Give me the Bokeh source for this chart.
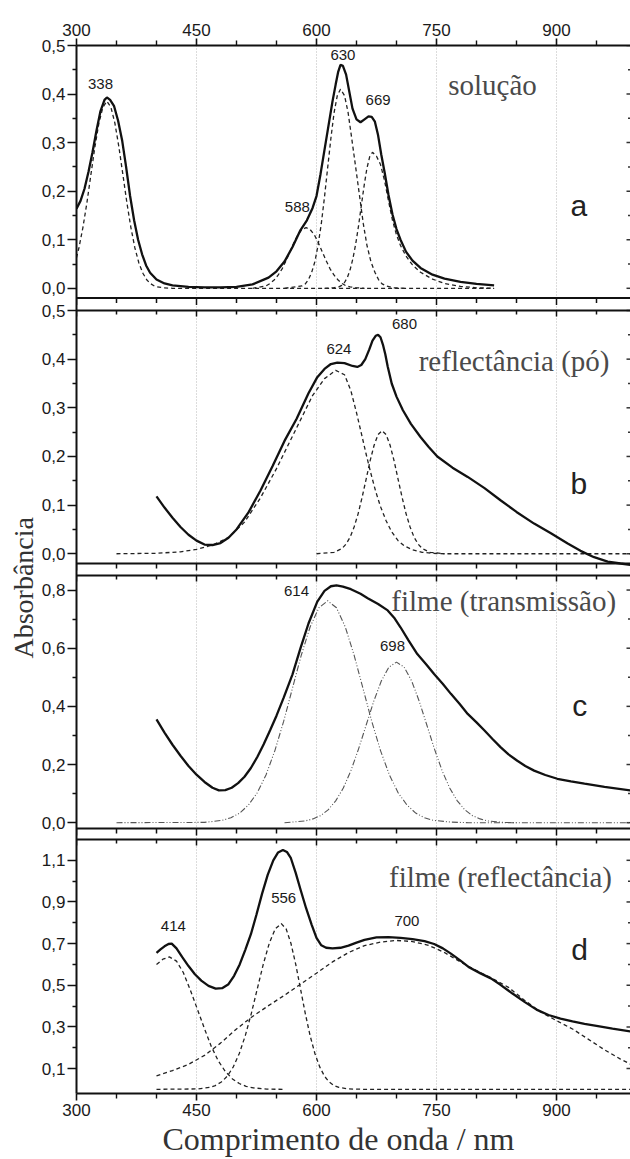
import math
from bokeh.plotting import figure
from bokeh.models import (Range1d, LinearAxis, FixedTicker, CustomJSTickFormatter,
                          Span, Label, Grid, ColumnDataSource, Title)
from bokeh.embed import file_html
from bokeh.resources import INLINE

# ---------------- data (wavelength nm, absorbance) ----------------
WL_MAJOR = [300, 450, 600, 750, 900]
WL_MINOR = [350, 400, 500, 550, 650, 700, 800, 850, 950]
WL_GRID = [450, 600, 750, 900]

# panel a : solução
a_total = [(300,0.164),(305,0.18),(310,0.205),(315,0.24),(320,0.28),(325,0.325),(330,0.365),(335,0.388),
           (338,0.393),(342,0.388),(347,0.375),(352,0.345),(357,0.305),(362,0.25),(367,0.19),(372,0.14),
           (377,0.10),(382,0.07),(387,0.047),(392,0.032),(400,0.018),(410,0.01),(420,0.006),(440,0.003),
           (460,0.002),(480,0.002),(500,0.003),(520,0.008),(540,0.022),(550,0.035),(560,0.055),(570,0.085),
           (580,0.12),(588,0.14),(595,0.165),(600,0.19),(605,0.235),(610,0.285),(615,0.335),(620,0.385),
           (624,0.42),(627,0.445),(630,0.46),(633,0.458),(637,0.44),(641,0.405),(645,0.37),(650,0.348),
           (655,0.342),(660,0.348),(665,0.354),(669,0.353),(673,0.343),(677,0.315),(681,0.275),(685,0.24),
           (690,0.192),(695,0.152),(700,0.122),(705,0.10),(712,0.075),(720,0.057),(730,0.042),(745,0.028),
           (760,0.02),(780,0.013),(800,0.009),(822,0.006)]
a_338 = [(300,0.063),(303,0.083),(308,0.125),(313,0.176),(318,0.234),(323,0.291),(328,0.34),(333,0.373),
         (338,0.385),(343,0.373),(348,0.34),(353,0.291),(358,0.234),(363,0.176),(368,0.125),(373,0.083),
         (378,0.052),(383,0.031),(388,0.017),(393,0.009),(398,0.004),(408,0.001),(420,0),(822,0)]
a_588 = [(520,0),(537,0.005),(542,0.01),(547,0.017),(552,0.027),(557,0.04),(562,0.057),(567,0.076),
         (572,0.095),(577,0.111),(582,0.121),(587,0.125),(592,0.121),(597,0.111),(602,0.095),(607,0.076),
         (612,0.057),(617,0.04),(622,0.027),(627,0.017),(632,0.01),(637,0.005),(642,0.003),(650,0.001),(660,0)]
a_630 = [(560,0),(582,0.005),(586,0.009),(590,0.018),(594,0.033),(598,0.055),(602,0.089),(606,0.133),
         (610,0.188),(614,0.249),(618,0.309),(622,0.362),(626,0.397),(630,0.41),(635,0.397),(639.5,0.362),
         (644,0.309),(649,0.249),(654,0.188),(658.5,0.133),(663,0.089),(668,0.055),(673,0.033),(677.5,0.018),
         (682,0.009),(687,0.005),(696,0.001),(710,0)]
a_669 = [(610,0),(621,0.001),(628,0.003),(631.5,0.006),(635,0.012),(638.5,0.022),(642,0.038),(645.5,0.061),
         (649,0.091),(652.5,0.128),(656,0.17),(659.5,0.211),(663,0.247),(666.5,0.271),(670,0.28),(675,0.272),
         (680,0.255),(685,0.222),(690,0.18),(695,0.14),(700,0.11),(705,0.088),(712,0.066),(720,0.048),
         (730,0.033),(745,0.019),(760,0.01),(780,0.004),(800,0.001),(822,0)]

# panel b : reflectância (pó)
b_total = [(400,0.118),(410,0.095),(420,0.074),(430,0.055),(440,0.039),(450,0.027),(460,0.019),(470,0.018),
           (480,0.022),(490,0.033),(500,0.05),(515,0.085),(530,0.13),(545,0.18),(560,0.232),(575,0.277),
           (590,0.33),(601,0.363),(610,0.38),(618,0.39),(626,0.393),(635,0.392),(645,0.386),(651,0.384),
           (656,0.388),(661,0.40),(666,0.42),(670,0.438),(674,0.448),(677,0.45),(680,0.445),(683,0.43),
           (686,0.41),(689,0.385),(694,0.35),(700,0.323),(708,0.295),(718,0.267),(730,0.24),(740,0.22),
           (751,0.20),(770,0.177),(789,0.158),(810,0.135),(830,0.11),(850,0.086),(872,0.062),(893,0.042),
           (914,0.021),(930,0.006),(947,-0.007),(964,-0.016),(980,-0.02),(993,-0.023)]
b_624 = [(350,0),(400,0.001),(430,0.004),(450,0.009),(470,0.018),(490,0.033),(510,0.065),(530,0.115),
         (550,0.175),(565,0.225),(580,0.275),(595,0.325),(610,0.36),(624,0.377),(635,0.368),(643,0.335),
         (650,0.29),(656,0.248),(662,0.205),(668,0.165),(674,0.128),(680,0.097),(687,0.068),(694,0.045),
         (702,0.027),(710,0.016),(720,0.008),(732,0.003),(745,0.001),(760,0),(993,0)]
b_680 = [(600,0),(622,0.003),(632,0.011),(637,0.02),(642,0.034),(647,0.055),(652,0.082),(657,0.116),
         (662,0.153),(667,0.191),(672,0.223),(677,0.245),(682,0.253),(687,0.245),(692,0.223),(697,0.191),
         (702,0.153),(707,0.116),(712,0.082),(717,0.055),(722,0.034),(727,0.02),(732,0.011),(742,0.003),(760,0)]

# panel c : filme (transmissão)
c_total = [(400,0.355),(410,0.31),(420,0.268),(430,0.23),(440,0.195),(450,0.165),(460,0.14),(470,0.12),
           (478,0.111),(486,0.112),(494,0.12),(502,0.136),(510,0.158),(518,0.188),(526,0.226),(534,0.27),
           (542,0.318),(550,0.368),(559,0.43),(570,0.51),(580,0.60),(590,0.685),(601,0.76),(610,0.797),
           (618,0.813),(625,0.816),(633,0.812),(643,0.803),(655,0.787),(664,0.772),(677,0.752),(689,0.73),
           (697,0.705),(705,0.672),(715,0.627),(726,0.58),(737,0.545),(747,0.511),(758,0.477),(768,0.443),
           (779,0.408),(789,0.374),(800,0.345),(810,0.317),(820,0.288),(830,0.26),(840,0.235),(851,0.213),
           (861,0.195),(872,0.179),(886,0.164),(901,0.151),(918,0.142),(935,0.134),(960,0.123),(993,0.111)]
c_614 = [(350,0),(460,0.001),(482,0.008),(493,0.017),(504,0.033),(515,0.061),(526,0.103),(537,0.165),
         (548,0.248),(559,0.349),(570,0.463),(581,0.576),(592,0.673),(603,0.739),(614,0.763),(625,0.739),
         (636,0.673),(647,0.576),(658,0.463),(669,0.349),(680,0.248),(691,0.165),(702,0.103),(713,0.061),
         (724,0.033),(735,0.017),(746,0.008),(768,0.002),(790,0),(993,0)]
c_698 = [(560,0),(586,0.006),(595.5,0.013),(605,0.024),(614.5,0.044),(624,0.075),(633.5,0.119),(643,0.179),
         (652.5,0.253),(662,0.335),(671.5,0.417),(681,0.487),(690.5,0.535),(700,0.552),(709.5,0.535),
         (719,0.487),(728.5,0.417),(738,0.335),(747.5,0.253),(757,0.179),(766.5,0.119),(776,0.075),
         (785.5,0.044),(795,0.024),(804.5,0.013),(814,0.006),(833,0.001),(850,0)]

# panel d : filme (reflectância)
d_total = [(400,0.655),(405,0.672),(410,0.687),(415,0.698),(419,0.70),(425,0.677),(432,0.636),(440,0.592),
           (448,0.553),(456,0.522),(465,0.497),(474,0.484),(482,0.486),(490,0.505),(497,0.545),(504,0.60),
           (511,0.67),(518,0.745),(525,0.84),(532,0.94),(539,1.03),(546,1.10),(552,1.138),(558,1.15),
           (563,1.14),(568,1.11),(574,1.04),(580,0.96),(587,0.87),(594,0.79),(600,0.727),(606,0.692),
           (612,0.68),(620,0.677),(630,0.68),(640,0.69),(650,0.705),(660,0.718),(675,0.73),(690,0.731),
           (705,0.727),(720,0.721),(735,0.712),(747,0.698),(758,0.677),(768,0.652),(780,0.618),(790,0.588),
           (805,0.557),(818,0.533),(830,0.502),(845,0.46),(860,0.42),(875,0.383),(890,0.357),(905,0.34),
           (920,0.326),(935,0.314),(950,0.305),(970,0.292),(993,0.278)]
d_414 = [(400,0.60),(408,0.625),(416,0.636),(425,0.616),(433.5,0.561),(442,0.48),(451,0.386),(460,0.291),
         (468.5,0.206),(477,0.138),(486,0.086),(495,0.05),(503.5,0.028),(512,0.014),(521,0.007),(538,0.001),(560,0)]
d_556 = [(400,0),(451,0.002),(466,0.009),(473.5,0.018),(481,0.035),(488.5,0.063),(496,0.108),(503.5,0.172),
         (511,0.258),(518.5,0.364),(526,0.483),(533.5,0.601),(541,0.702),(548.5,0.771),(556,0.796),(562,0.771),
         (568,0.702),(574,0.601),(580,0.483),(586,0.364),(592,0.258),(598,0.172),(604,0.108),(610,0.063),
         (616,0.035),(622,0.018),(628,0.009),(640,0.002),(660,0),(993,0)]
d_700 = [(400,0.065),(420,0.09),(440,0.12),(460,0.163),(480,0.222),(500,0.29),(520,0.35),(540,0.402),
         (560,0.452),(580,0.505),(600,0.558),(620,0.612),(640,0.657),(660,0.69),(680,0.707),(700,0.715),
         (720,0.71),(740,0.692),(760,0.657),(780,0.612),(800,0.57),(820,0.532),(840,0.49),(860,0.428),
         (880,0.372),(900,0.33),(920,0.29),(940,0.24),(960,0.19),(980,0.145),(993,0.12)]

# peak labels (text, wavelength, absorbance)
a_peaks = [("338", 330, 0.421), ("588", 576, 0.168), ("630", 633, 0.481), ("669", 677, 0.387)]
b_peaks = [("624", 628, 0.421), ("680", 710, 0.473)]
c_peaks = [("614", 575, 0.798), ("698", 695, 0.606)]
d_peaks = [("414", 421, 0.783), ("556", 559, 0.919), ("700", 713, 0.809)]

# ---------------- layout (screen pixels, page origin at top-left) ----------------
FIG_W, FIG_H = 630, 1158
B_LEFT, B_TOP, B_BOTTOM = 76, 45, 65
FT = B_TOP                     # frame top
FB = FIG_H - B_BOTTOM          # frame bottom
X0, X1 = 300, 992.5
PX_PER_NM = (FIG_W - B_LEFT) / (X1 - X0)

PANELS = [
    dict(name="a", lo=-0.02, hi=0.5, top=45, bot=297.5,
         ticks=[0.0, 0.1, 0.2, 0.3, 0.4, 0.5], labels=["0,0", "0,1", "0,2", "0,3", "0,4", "0,5"],
         minor=[0.05, 0.15, 0.25, 0.35, 0.45], total=a_total, comps=[a_338, a_588, a_630, a_669],
         dash="4 3", peaks=a_peaks, title=("solução", 820, 0.419), letter=("a", 928, 0.17)),
    dict(name="b", lo=-0.02, hi=0.5, top=310, bot=563,
         ticks=[0.0, 0.1, 0.2, 0.3, 0.4, 0.5], labels=["0,0", "0,1", "0,2", "0,3", "0,4", "0,5"],
         minor=[0.05, 0.15, 0.25, 0.35, 0.45], total=b_total, comps=[b_624, b_680],
         dash="4 3", peaks=b_peaks, title=("reflectância (pó)", 847, 0.397), letter=("b", 928, 0.144)),
    dict(name="c", lo=-0.02, hi=0.85, top=575, bot=828,
         ticks=[0.0, 0.2, 0.4, 0.6, 0.8], labels=["0,0", "0,2", "0,4", "0,6", "0,8"],
         minor=[0.1, 0.3, 0.5, 0.7], total=c_total, comps=[c_614, c_698],
         dash="6 2 1 2 1 2", peaks=c_peaks, title=("filme (transmissão)", 834, 0.763), letter=("c", 929, 0.403)),
    dict(name="d", lo=-0.02, hi=1.2, top=839, bot=FB,
         ticks=[0.1, 0.3, 0.5, 0.7, 0.9, 1.1], labels=["0,1", "0,3", "0,5", "0,7", "0,9", "1,1"],
         minor=[0.2, 0.4, 0.6, 0.8, 1.0], total=d_total, comps=[d_414, d_556, d_700],
         dash="4 3", peaks=d_peaks, title=("filme (reflectância)", 830, 1.02), letter=("d", 929, 0.671)),
]

p = figure(width=FIG_W, height=FIG_H, x_range=Range1d(X0, X1), y_range=Range1d(FB, FT),
           output_backend="svg", toolbar_location=None, x_axis_type=None, y_axis_type=None,
           min_border_left=B_LEFT, min_border_right=0, min_border_top=B_TOP, min_border_bottom=B_BOTTOM,
           outline_line_color=None, background_fill_color="white", border_fill_color="white")

# faint dotted vertical grid
p.add_layout(Grid(dimension=0, ticker=FixedTicker(ticks=WL_GRID), grid_line_color="#b8b8b8",
                  grid_line_dash="1 2", grid_line_width=1))

major_px, major_lab, minor_px = [], [], []
for P in PANELS:
    s = (P["bot"] - P["top"]) / (P["hi"] - P["lo"])
    P["s"] = s
    start = P["lo"] - (FB - P["bot"]) / s
    end = P["hi"] + (P["top"] - FT) / s
    p.extra_y_ranges[P["name"]] = Range1d(start, end)
    for v, lab in zip(P["ticks"], P["labels"]):
        major_px.append(P["bot"] - (v - P["lo"]) * s)
        major_lab.append(lab)
    for v in P["minor"]:
        minor_px.append(P["bot"] - (v - P["lo"]) * s)

TICK_FONT = "Liberation Sans"
SERIF = "Liberation Serif"
fmt = CustomJSTickFormatter(args=dict(pos=major_px, lab=major_lab), code="""
let best = 0, bd = Infinity;
for (let i = 0; i < pos.length; i++) { const d = Math.abs(pos[i] - tick); if (d < bd) { bd = d; best = i; } }
return lab[best];
""")

def style_axis(ax, out_major, out_minor, standoff):
    ax.axis_line_width = 2
    ax.axis_line_color = "#111111"
    ax.major_tick_out = out_major
    ax.major_tick_in = 0
    ax.minor_tick_out = out_minor
    ax.minor_tick_in = 0
    ax.major_tick_line_width = 1.6
    ax.minor_tick_line_width = 1.4
    ax.major_tick_line_color = "#111111"
    ax.minor_tick_line_color = "#111111"
    ax.major_label_text_font = TICK_FONT
    ax.major_label_text_font_size = "17px"
    ax.major_label_text_color = "#1a1a1a"
    ax.major_label_standoff = standoff

left = LinearAxis(ticker=FixedTicker(ticks=major_px, minor_ticks=minor_px), formatter=fmt)
style_axis(left, 9, 4, 2)
p.add_layout(left, "left")

for place in ("below", "above"):
    ax = LinearAxis(ticker=FixedTicker(ticks=WL_MAJOR, minor_ticks=WL_MINOR))
    style_axis(ax, 7, 5, 3)
    p.add_layout(ax, place)

# axis titles (offset measured from the frame's bottom / left edge)
p.add_layout(Title(text="Absorbância", align="left", offset=435, standoff=0,
                   text_font=SERIF, text_font_size="28px", text_font_style="normal",
                   text_color="#333333"), "left")
p.add_layout(Title(text="Comprimento de onda / nm", align="left", offset=86, standoff=0,
                   text_font=SERIF, text_font_size="32px", text_font_style="normal",
                   text_color="#333333"), "below")

# inner panel boundaries with their tick marks, and the inward ticks on the right edge
for i, P in enumerate(PANELS):
    nm = P["name"]
    n_all = len(WL_MAJOR) + len(WL_MINOR)
    if i < len(PANELS) - 1:
        p.add_layout(Span(location=P["lo"], dimension="width", y_range_name=nm,
                          line_color="#111111", line_width=2))
        src = ColumnDataSource(dict(
            x=WL_MAJOR + WL_MINOR, y0=[P["lo"]] * n_all,
            y1=[P["lo"] - 7 / P["s"]] * len(WL_MAJOR) + [P["lo"] - 5 / P["s"]] * len(WL_MINOR)))
        p.segment(x0="x", y0="y0", x1="x", y1="y1", source=src, y_range_name=nm,
                  line_color="#111111", line_width=1.5)
    if i > 0:
        p.add_layout(Span(location=P["hi"], dimension="width", y_range_name=nm,
                          line_color="#111111", line_width=2))
        src = ColumnDataSource(dict(
            x=WL_MAJOR + WL_MINOR, y0=[P["hi"]] * n_all,
            y1=[P["hi"] - 6 / P["s"]] * len(WL_MAJOR) + [P["hi"] - 4 / P["s"]] * len(WL_MINOR)))
        p.segment(x0="x", y0="y0", x1="x", y1="y1", source=src, y_range_name=nm,
                  line_color="#111111", line_width=1.5)
    ry = P["ticks"] + P["minor"]
    rsrc = ColumnDataSource(dict(y=ry, x0=[X1] * len(ry),
                                 x1=[X1 - 4 / PX_PER_NM] * len(P["ticks"]) + [X1 - 2.5 / PX_PER_NM] * len(P["minor"])))
    p.segment(x0="x0", y0="y", x1="x1", y1="y", source=rsrc, y_range_name=nm,
              line_color="#333333", line_width=1.5)

# curves and texts
for P in PANELS:
    nm = P["name"]
    dashed = P["dash"] == "4 3"
    for comp in P["comps"]:
        p.line([q[0] for q in comp], [q[1] for q in comp], y_range_name=nm,
               line_color="#222222" if dashed else "#555555",
               line_width=1.3 if dashed else 1.1, line_dash=P["dash"])
    p.line([q[0] for q in P["total"]], [q[1] for q in P["total"]], y_range_name=nm,
           line_color="#111111", line_width=2.3)
    for txt, x, y in P["peaks"]:
        p.add_layout(Label(x=x, y=y, y_range_name=nm, text=txt, text_font=TICK_FONT,
                           text_font_size="15px", text_color="#1a1a1a",
                           text_align="center", text_baseline="middle"))
    t, x, y = P["title"]
    p.add_layout(Label(x=x, y=y, y_range_name=nm, text=t, text_font=SERIF,
                       text_font_size="29px", text_color="#4a4a4a",
                       text_align="center", text_baseline="middle"))
    t, x, y = P["letter"]
    p.add_layout(Label(x=x, y=y, y_range_name=nm, text=t, text_font=TICK_FONT,
                       text_font_size="30px", text_color="#222222",
                       text_align="center", text_baseline="middle"))

open("out.html", "w").write(file_html(p, INLINE))
